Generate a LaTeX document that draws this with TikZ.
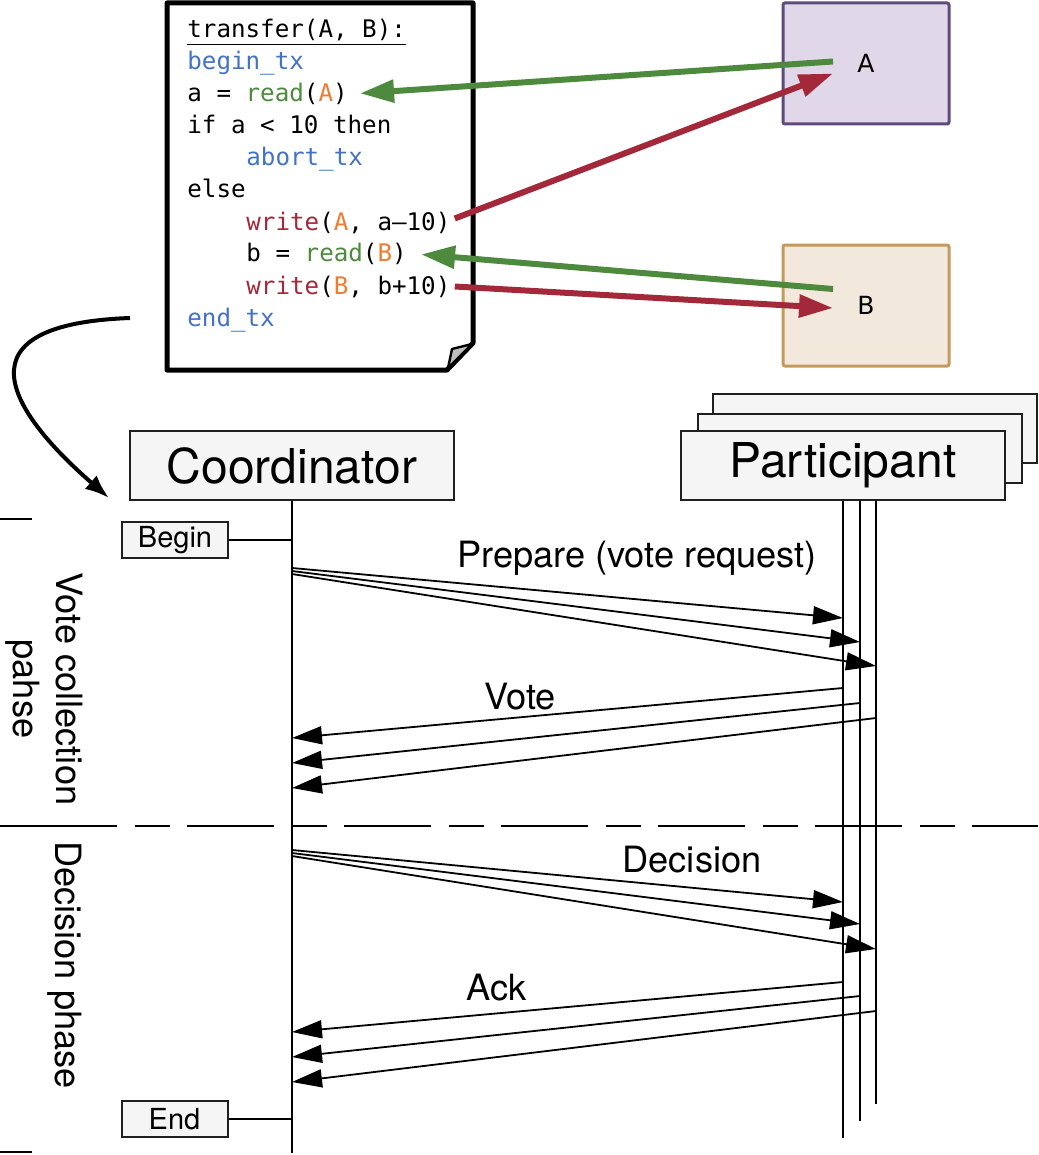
\documentclass[tikz,border=0pt]{standalone}
\usepackage{fontspec}
\setmainfont{TeX Gyre Heros}
\setmonofont{DejaVu Sans Mono}
\newfontfamily\itemfont{DejaVu Sans}
\usetikzlibrary{positioning,arrows.meta,calc}

\definecolor{kwblue}{HTML}{4472C4}
\definecolor{rdgreen}{HTML}{4E8A3E}
\definecolor{argorange}{HTML}{ED7D31}
\definecolor{wrred}{HTML}{A3283A}
\definecolor{storeAfill}{HTML}{E0D8E8}
\definecolor{storeAline}{HTML}{604A7B}
\definecolor{storeBfill}{HTML}{F2E9DC}
\definecolor{storeBline}{HTML}{C49A5A}

\begin{document}
\begin{tikzpicture}[x=0.5pt,y=-0.5pt,
  codeline/.style={anchor=base west,inner sep=0pt,font=\ttfamily\fontsize{12.1}{14}\selectfont},
  store/.style={line width=1.5pt,rounded corners=1pt,minimum width=83pt,minimum height=60.5pt,
    font=\itemfont\fontsize{12.5}{14}\selectfont},
  access/.style={line width=3pt,-{Triangle[length=17pt,width=11pt]}},
  actor/.style={draw=black!88,fill=black!4,line width=1pt,minimum width=162pt,minimum height=34.5pt,
    inner sep=0pt,font=\fontsize{24}{28}\selectfont},
  tag/.style={draw=black!88,fill=black!4,line width=1pt,minimum width=53pt,minimum height=18pt,
    inner sep=0pt,font=\fontsize{14.5}{17}\selectfont},
  msg/.style={line width=0.9pt,-{Triangle[length=15pt,width=9pt]}},
  lbl/.style={font=\fontsize{18.1}{21.5}\selectfont},
  life/.style={line width=1pt}]
\useasboundingbox (0,0) rectangle (1038,1155);

% the transaction as a sheet of code
\draw[line width=2.5pt,line join=round,fill=white]
  (167,3) -- (473,3) -- (473,343) -- (447,370) -- (167,370) -- cycle;
\draw[line width=1.2pt,line join=round,fill=black!25] (472,344) -- (452,349) -- (448,368) -- cycle;

\node[codeline] (hdr) at (187,38) {\underline{transfer(A, B):}};
\node[codeline] (begintx) at (187,70) {\textcolor{kwblue}{begin\_tx}};
\node[codeline] (readA) at (187,102) {a = \textcolor{rdgreen}{read}(\textcolor{argorange}{A})};
\node[codeline] (iftest) at (187,134) {if a < 10 then};
\node[codeline] (aborttx) at (246,166) {\textcolor{kwblue}{abort\_tx}};
\node[codeline] (elsebr) at (187,198) {else};
\node[codeline] (writeA) at (246,230) {\textcolor{wrred}{write}(\textcolor{argorange}{A}, a–10)};
\node[codeline] (readB) at (246,262) {b = \textcolor{rdgreen}{read}(\textcolor{argorange}{B})};
\node[codeline] (writeB) at (246,294) {\textcolor{wrred}{write}(\textcolor{argorange}{B}, b+10)};
\node[codeline] (endtx) at (187,326) {\textcolor{kwblue}{end\_tx}};

% the two data items
\node[store,draw=storeAline,fill=storeAfill] (boxA) at (866,63.5) {A};
\node[store,draw=storeBline,fill=storeBfill] (boxB) at (866,305.5) {B};
\coordinate (aRd) at ([xshift=-16.5pt,yshift=1pt]boxA.center);
\coordinate (aWr) at ([xshift=-16.5pt,yshift=-5pt]boxA.center);
\coordinate (bRd) at ([xshift=-16.5pt,yshift=8.25pt]boxB.center);
\coordinate (bWr) at ([xshift=-16.5pt,yshift=-1.25pt]boxB.center);

\draw[access,rdgreen] (aRd) -- ([xshift=6pt,yshift=0.5pt]readA.east);
\draw[access,wrred] ([xshift=2pt,yshift=2pt]writeA.east) -- (aWr);
\draw[access,rdgreen] (bRd) -- ([xshift=7pt]readB.east);
\draw[access,wrred] ([xshift=2pt]writeB.east) -- (bWr);

% from the code down to the protocol
\coordinate (txout) at (130,318);
\node[actor] (coord) at (292,465.5) {Coordinator};
\draw[line width=2pt,-{Latex[length=12pt,width=9pt]}]
  (txout) .. controls (-60,325) and (25,425) .. ([xshift=-10pt,yshift=1.5pt]coord.south west);

% lifelines
\node[actor] (part3) at (875,428.5) {};
\node[actor] (part2) at (860,448) {};
\node[actor] (part) at (843,465.5) {Participant};
\coordinate (cl) at (coord.south);
\coordinate (l1) at (part.south);
\coordinate (l2) at (part2.south |- part.south);
\coordinate (l3) at ([xshift=0.5pt]part3.south |- part.south);
\draw[life] (cl) -- ++(0,652);
\draw[life] (l1) -- ++(0,637);
\draw[life] (l2) -- ++(0,620);
\draw[life] (l3) -- ++(0,603);

\node[tag] (begin) at (175,540) {Begin};
\node[tag] (end) at (174.5,1119) {End};
\draw[life] (begin.east) -- (begin.east -| cl);
\draw[life] (end.east) -- (end.east -| cl);

% messages
\foreach \ys/\ye/\l in {568/618/l1,571/642/l2,574/666/l3,850/902/l1,853/924/l2,856/949/l3}
  \draw[msg] (cl |- 0,\ys) -- (\l |- 0,\ye);
\foreach \ys/\ye/\l in {688/738/l1,703/763/l2,718/788/l3,982/1032/l1,996/1057/l2,1011/1082/l3}
  \draw[msg] (\l |- 0,\ys) -- (cl |- 0,\ye);
\node[lbl] (prep) at (637,558) {Prepare (vote request)};
\node[lbl] (vote) at (520,697) {Vote};
\node[lbl] (dec) at (692,860) {Decision};
\node[lbl] (ack) at (497,988) {Ack};

% phases
\draw[life] (0,519) -- (32,519);
\draw[life] (0,826) -- (32,826);
\draw[life] (0,1152) -- (32,1152);
\draw[life,dash pattern=on 43.5pt off 9pt on 17.5pt off 8.5pt] (30,826) -- (1038,826);
\node[lbl,rotate=-90,align=center] (ph1) at (44,689) {Vote collection\\pahse};
\node[lbl,rotate=-90] (ph2) at (65,965) {Decision phase};
\end{tikzpicture}
\end{document}
